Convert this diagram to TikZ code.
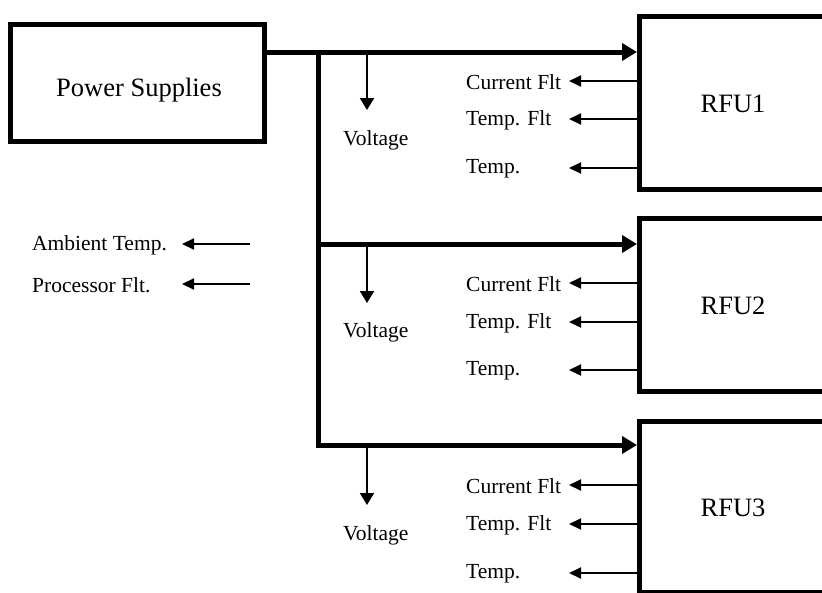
\documentclass[tikz,border=0pt]{standalone}
\usepackage{fontspec}
\setmainfont{Liberation Serif}
\usetikzlibrary{arrows.meta}
\begin{document}
\begin{tikzpicture}[x=1pt,y=-1pt,
  box/.style={draw,line width=4.5pt,rectangle,inner sep=0pt},
  bus/.style={line width=5pt,-{Triangle[length=15pt,width=17pt]}},
  busline/.style={line width=5pt},
  sig/.style={line width=2pt,-{Triangle[length=12pt,width=11pt]}},
  vsig/.style={line width=2pt,-{Triangle[length=12pt,width=14pt]}},
  lbl/.style={font=\fontsize{21.5}{24}\selectfont,inner sep=0pt,anchor=west},
  big/.style={font=\fontsize{26.5}{30}\selectfont,inner sep=0pt}]
\useasboundingbox (0,0) rectangle (822,592);
\clip (0,0) rectangle (822,592);
\node[box,anchor=north west,minimum width=254pt,minimum height=117pt] (ps) at (8,22) {};
\node[big] (pstext) at (139,90) {Power Supplies};
\coordinate (j0) at (262,52);
\coordinate (j1) at (318,52);
\coordinate (j2) at (318,244);
\coordinate (j3) at (318,445);
\foreach \i/\top/\h/\bus/\vt/\vy/\cf/\tf/\t/\ly in {1/14/173/52/110/140/82/120/169/104, 2/216/173/244/303/332/284/323/371/306, 3/419/171/445/505/535/486/525/574/508}{
  \node[box,anchor=north west,minimum width=260pt,minimum height=\h pt] (rfu\i) at (637,\top) {};
  \node[big] (rl\i) at (733,\ly) {RFU\i};
  \coordinate (vs\i) at (367,\bus);
  \coordinate (ve\i) at (367,\vt);
  \draw[vsig] (vs\i) -- (ve\i);
  \node[lbl] (volt\i) at (343,\vy) {Voltage};
  \node[lbl] (cf\i) at (466,\cf) {Current Flt};
  \node[lbl] (tf\i) at (466,\tf) {Temp. Flt};
  \node[lbl] (tp\i) at (466,\t) {Temp.};
  \coordinate (cfe\i) at (569,\cf-1);
  \coordinate (tfe\i) at (569,\tf-1);
  \coordinate (tpe\i) at (569,\t-1);
  \draw[sig] (rfu\i.west |- cfe\i) -- (cfe\i);
  \draw[sig] (rfu\i.west |- tfe\i) -- (tfe\i);
  \draw[sig] (rfu\i.west |- tpe\i) -- (tpe\i);
}
\draw[bus] (j0) -- (rfu1.west |- j0);
\draw[busline] (j1) -- (j3);
\draw[bus] (j2) -- (rfu2.west |- j2);
\draw[bus,line join=miter] ([yshift=-2.5pt]j1) -- (j3) -- (rfu3.west |- j3);
\node[lbl] (amb) at (32,245) {Ambient Temp.};
\node[lbl] (proc) at (32,285) {Processor Flt.};
\coordinate (as) at (250,244);
\coordinate (ae) at (182,244);
\coordinate (prs) at (250,284);
\coordinate (pre) at (182,284);
\draw[sig] (as) -- (ae);
\draw[sig] (prs) -- (pre);
\end{tikzpicture}
\end{document}
